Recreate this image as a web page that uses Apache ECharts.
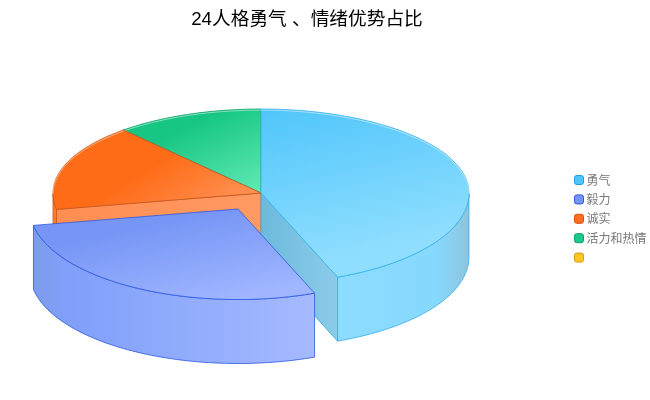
<!DOCTYPE html>
<html><head><meta charset="utf-8">
<script src="https://cdn.jsdelivr.net/npm/echarts@6/dist/echarts.min.js"></script>
<style>html,body{margin:0;padding:0;background:#fff}#c{width:650px;height:400px}</style>
</head><body><div id="c"></div>
<script>
const titleText = '24人格勇气 、情绪优势占比';
const names = ['勇气', '毅力', '诚实', '活力和热情', ' '];
const values = [44.0, 28.1, 16.4, 11.5, 0];
const legendColors = ['#4fc6fb', '#7595f8', '#ff6f1f', '#1cc98a', '#fcc71f'];
const legendBorders = ['#1fa0dc', '#2a55dc', '#d84f10', '#0d9f68', '#d99a10'];

const styles = [
  {top:['#4cc4fa','#8fdeff'], line:'#35b0ea', rim:['#8edbff','#86d8fd','#8fc4dc'], wall:['#6cbadd','#8ccbe9'], tilt:40, z:3},
  {top:['#7695f5','#a0b6ff'], line:'#2b58e2', rim:['#7d9cec','#809ffa','#a5baff'], wall:['#7d9cec','#a5baff'], tilt:20, z:4},
  {top:['#ff6c18','#ff9a62'], line:'#c9561c', rim:['#d96a28','#ff7a30','#ff7a30'], wall:['#ff8e52','#ff9a62'], tilt:50, z:2},
  {top:['#16c682','#62eab4'], line:'#12a06c', rim:['#12c47e','#12c47e','#12c47e'], wall:['#12c47e','#12c47e'], tilt:40, z:1},
  {top:['#fcc71f','#fcc71f'], line:'#d99a10', rim:['#fcc71f','#fcc71f','#fcc71f'], wall:['#fcc71f','#fcc71f'], tilt:0, z:0}
];
const cx = 261, cy = 193, rx = 208, ryBack = 84, ryFront = 90.5, depth = 64;
const popIndex = 1, popDx = -23, popDy = 16;
const total = values.reduce((a, b) => a + b, 0);
const G = echarts.graphic.LinearGradient;

function pt(c, deg, dy) {
  const t = deg * Math.PI / 180, k = Math.cos(t);
  return [c[0] + rx * Math.sin(t), c[1] - (k > 0 ? ryBack : ryFront) * k + (dy || 0)];
}
function arc(c, a, b, dy) {
  const out = [], n = Math.max(2, Math.ceil(Math.abs(b - a) / 1.5));
  for (let i = 0; i <= n; i++) out.push(pt(c, a + (b - a) * i / n, dy));
  return out;
}
function renderSector(i) {
  if (values[i] <= 0) return {type: 'group', children: []};
  const s = styles[i];
  let acc = 0;
  for (let k = 0; k < i; k++) acc += values[k];
  const a0 = acc / total * 360, a1 = (acc + values[i]) / total * 360;
  const c = i === popIndex ? [cx + popDx, cy + popDy] : [cx, cy];
  const children = [];
  const lineStyle = {stroke: s.line, lineWidth: 0.8};
  const wall = (deg) => {
    const p = pt(c, deg);
    const pts = [c, p, [p[0], p[1] + depth], [c[0], c[1] + depth]];
    children.push({type: 'polygon', shape: {points: pts}, style: Object.assign({
      fill: new G(Math.min(c[0], p[0]), 0, Math.max(c[0], p[0]), 0, [
        {offset: 0, color: s.wall[0]}, {offset: 1, color: s.wall[1]}], true)}, lineStyle)});
  };
  if (Math.sin(a0 * Math.PI / 180) < -0.001) wall(a0);
  if (Math.sin(a1 * Math.PI / 180) > 0.001) wall(a1);
  const r0 = Math.max(a0, 90), r1 = Math.min(a1, 270);
  if (r1 > r0) {
    const up = arc(c, r0, r1, 0), down = arc(c, r1, r0, depth);
    const xs = up.map(p => p[0]);
    const xa = Math.min.apply(null, xs), xb = Math.max.apply(null, xs);
    const leftFacing = (xa + xb) / 2 < c[0];
    const stops = leftFacing
      ? [{offset: 0, color: s.rim[0]}, {offset: 0.12, color: s.rim[1]}, {offset: 1, color: s.rim[2]}]
      : [{offset: 0, color: s.rim[0]}, {offset: 0.75, color: s.rim[1]}, {offset: 1, color: s.rim[2]}];
    children.push({type: 'polygon', shape: {points: up.concat(down)}, style: Object.assign({
      fill: new G(xa, 0, xb, 0, stops, true)}, lineStyle)});
  }
  const top = [c].concat(arc(c, a0, a1, 0));
  const ys = top.map(p => p[1]);
  const ya = Math.min.apply(null, ys), yb = Math.max.apply(null, ys);
  children.push({type: 'polygon', shape: {points: top}, style: Object.assign({
    fill: new G(c[0] - s.tilt, ya, c[0], yb, [
      {offset: 0, color: s.top[0]}, {offset: 1, color: s.top[1]}], true)}, lineStyle)});
  // light highlight just inside the back edge of the top face
  const h0 = Math.max(a0, i === 0 ? 0 : 270), h1 = i === 0 ? Math.min(a1, 90) : a1;
  if (i !== popIndex && h1 > h0) {
    children.push({type: 'polyline', shape: {points: arc(c, h0, h1, 1.1)},
      style: {fill: 'none', stroke: 'rgba(255,255,255,0.6)', lineWidth: 0.8}});
  }
  return {type: 'group', children};
}

const chart = echarts.init(document.getElementById('c'), null, {renderer: 'canvas'});
chart.setOption({
  animation: false,
  backgroundColor: '#fff',
  title: {text: titleText, left: 302, top: 6, textAlign: 'center',
    textStyle: {color: '#000', fontSize: 18.7, fontWeight: 'normal',
      fontFamily: '"Liberation Sans","Noto Sans CJK SC",sans-serif'}},
  legend: {
    orient: 'vertical', left: 574, top: 169, itemWidth: 9, itemHeight: 9, itemGap: 7.4, padding: [5, 0, 0, 0],
    icon: 'roundRect', selectedMode: false,
    textStyle: {color: '#777', fontSize: 12, padding: [0, 0, 0, -2],
      fontFamily: '"Noto Sans CJK SC",sans-serif'},
    data: names.map((n, i) => ({name: n,
      itemStyle: {color: legendColors[i], borderColor: legendBorders[i], borderWidth: 1}}))
  },
  series: names.map((n, i) => ({
    type: 'custom', name: n, coordinateSystem: 'none', z: styles[i].z,
    silent: true, clip: false,
    itemStyle: {color: legendColors[i]},
    data: [values[i]],
    renderItem: () => renderSector(i)
  }))
});
</script></body></html>
